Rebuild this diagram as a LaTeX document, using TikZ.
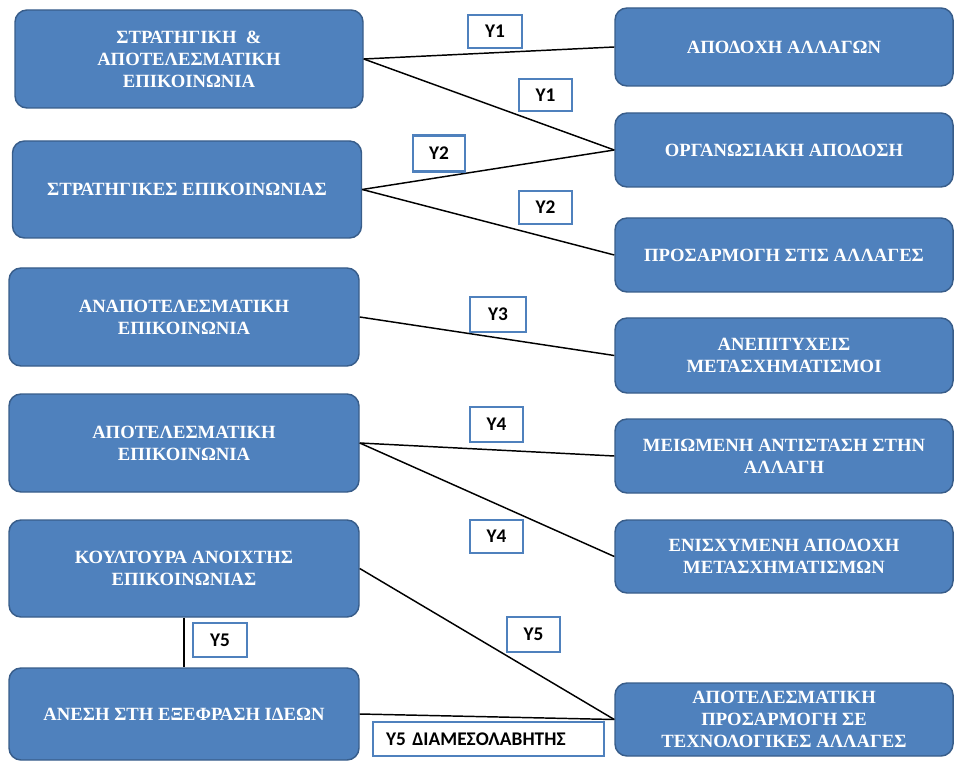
\documentclass[tikz,border=0pt]{standalone}
\usepackage{fontspec}
\setmainfont{Liberation Serif}
\newfontfamily\lblfont{Carlito}
\definecolor{boxblue}{HTML}{4F81BD}
\definecolor{boxedge}{HTML}{385D8A}
\begin{document}
\begin{tikzpicture}[x=0.75pt,y=-0.75pt,
  box/.style={draw=boxedge, line width=1.1pt, fill=boxblue, rounded corners=9pt,
    text=white, align=center, inner sep=0pt,
    font=\fontsize{14}{16.5}\selectfont\bfseries},
  lbl/.style={draw=boxblue, line width=2pt, fill=white, inner sep=0pt,
    font=\lblfont\fontsize{14.5}{16}\selectfont\bfseries},
  link/.style={draw=black, line width=1.1pt}]
\useasboundingbox (0,0) rectangle (955,762);
% left column
\node[box, minimum width=261pt, minimum height=73.5pt] (L1) at (189,59) {ΣΤΡΑΤΗΓΙΚΗ \ \&\\ΑΠΟΤΕΛΕΣΜΑΤΙΚΗ\\ΕΠΙΚΟΙΝΩΝΙΑ};
\node[box, minimum width=261.75pt, minimum height=72.75pt] (L2) at (187,189.5) {ΣΤΡΑΤΗΓΙΚΕΣ ΕΠΙΚΟΙΝΩΝΙΑΣ};
\node[box, minimum width=262.5pt, minimum height=73.5pt] (L3) at (184,317) {ΑΝΑΠΟΤΕΛΕΣΜΑΤΙΚΗ\\ΕΠΙΚΟΙΝΩΝΙΑ};
\node[box, minimum width=262.5pt, minimum height=73.5pt] (L4) at (184,443) {ΑΠΟΤΕΛΕΣΜΑΤΙΚΗ\\ΕΠΙΚΟΙΝΩΝΙΑ};
\node[box, minimum width=262.5pt, minimum height=72.75pt] (L5) at (184,568.5) {ΚΟΥΛΤΟΥΡΑ ΑΝΟΙΧΤΗΣ\\ΕΠΙΚΟΙΝΩΝΙΑΣ};
\node[box, minimum width=262.5pt, minimum height=69pt] (L6) at (184,714) {ΑΝΕΣΗ ΣΤΗ ΕΞΕΦΡΑΣΗ ΙΔΕΩΝ};
% right column
\node[box, minimum width=253.5pt, minimum height=58.5pt] (R1) at (784,47) {ΑΠΟΔΟΧΗ ΑΛΛΑΓΩΝ};
\node[box, minimum width=253.5pt, minimum height=55.5pt] (R2) at (784,150) {ΟΡΓΑΝΩΣΙΑΚΗ ΑΠΟΔΟΣΗ};
\node[box, minimum width=253.5pt, minimum height=55.5pt] (R3) at (784,255) {ΠΡΟΣΑΡΜΟΓΗ ΣΤΙΣ ΑΛΛΑΓΕΣ};
\node[box, minimum width=253.5pt, minimum height=56.25pt] (R4) at (784,355.5) {ΑΝΕΠΙΤΥΧΕΙΣ\\ΜΕΤΑΣΧΗΜΑΤΙΣΜΟΙ};
\node[box, minimum width=253.5pt, minimum height=55.5pt] (R5) at (784,456) {ΜΕΙΩΜΕΝΗ ΑΝΤΙΣΤΑΣΗ ΣΤΗΝ\\ΑΛΛΑΓΗ};
\node[box, minimum width=253.5pt, minimum height=54.75pt] (R6) at (784,556.5) {ΕΝΙΣΧΥΜΕΝΗ ΑΠΟΔΟΧΗ\\ΜΕΤΑΣΧΗΜΑΤΙΣΜΩΝ};
\node[box, minimum width=253.5pt, minimum height=54.75pt] (R7) at (784,719.5) {ΑΠΟΤΕΛΕΣΜΑΤΙΚΗ\\ΠΡΟΣΑΡΜΟΓΗ ΣΕ\\ΤΕΧΝΟΛΟΓΙΚΕΣ ΑΛΛΑΓΕΣ};
% connectors
\draw[link] (L1.east) -- (R1.west);
\draw[link] (L1.east) -- (R2.west);
\draw[link] (L2.east) -- (R2.west);
\draw[link] (L2.east) -- (R3.west);
\draw[link] (L3.east) -- (R4.west);
\draw[link] (L4.east) -- (R5.west);
\draw[link] (L4.east) -- (R6.west);
\draw[link] (L5.east) -- (R7.west);
\draw[link] (L5.south) -- (L6.north);
\draw[link] (L6.east) -- (R7.west);
% labels
\node[lbl, minimum width=40.5pt, minimum height=24.75pt] (Y1a) at (495,31.5) {Υ1};
\node[lbl, minimum width=39.75pt, minimum height=24pt] (Y1b) at (545.5,95) {Υ1};
\node[lbl, minimum width=39pt, minimum height=27pt] (Y2a) at (439,153.5) {Υ2};
\node[lbl, minimum width=39.75pt, minimum height=24.75pt] (Y2b) at (545.5,207.5) {Υ2};
\node[lbl, minimum width=42pt, minimum height=26.25pt] (Y3) at (498,314.5) {Υ3};
\node[lbl, minimum width=39.75pt, minimum height=26.25pt] (Y4a) at (496.5,424.5) {Υ4};
\node[lbl, minimum width=39.75pt, minimum height=24.75pt] (Y4b) at (496.5,536.5) {Υ4};
\node[lbl, minimum width=40.5pt, minimum height=25.5pt] (Y5a) at (220,640) {Υ5};
\node[lbl, minimum width=39.75pt, minimum height=26.25pt] (Y5b) at (533.5,634.5) {Υ5};
\node[lbl, minimum height=25.5pt, text width=153.75pt, inner xsep=9.75pt, align=left] (Y5m) at (488.5,739) {Υ5 ΔΙΑΜΕΣΟΛΑΒΗΤΗΣ};
\end{tikzpicture}
\end{document}
